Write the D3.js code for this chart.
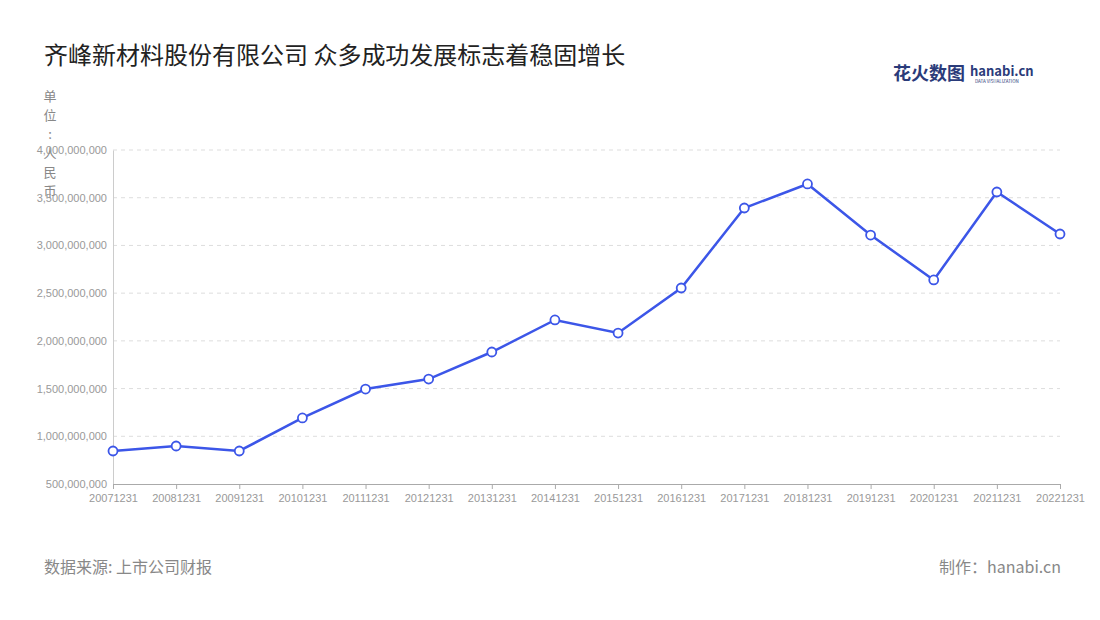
<!DOCTYPE html>
<html><head><meta charset="utf-8">
<script src="https://cdn.jsdelivr.net/npm/d3@7"></script>
<style>body{margin:0;background:#fff;font-family:"Noto Sans CJK SC","Noto Sans",sans-serif}</style>
</head><body><svg id="chart" width="1100" height="620"></svg>
<script>
var dates = ["20071231","20081231","20091231","20101231","20111231","20121231","20131231","20141231","20151231","20161231","20171231","20181231","20191231","20201231","20211231","20221231"];
var values = [846e6,898e6,846e6,1192e6,1495e6,1600e6,1883e6,2219e6,2082e6,2554e6,3392e6,3644e6,3109e6,2638e6,3560e6,3120e6];
var yTicks = [500e6,1000e6,1500e6,2000e6,2500e6,3000e6,3500e6,4000e6];

var svg = d3.select("#chart");
var x = d3.scalePoint().domain(dates).range([113,1060]);
var y = d3.scaleLinear().domain([500e6,4000e6]).range([484,150]);

svg.append("text").attr("x",44).attr("y",64).attr("font-size",24).attr("fill","#222")
  .text("齐峰新材料股份有限公司 众多成功发展标志着稳固增长");

// logo
svg.append("text").attr("x",893).attr("y",80).attr("font-size",18).attr("font-weight","bold").attr("fill","#2a3b7a").text("花火数图");
svg.append("text").attr("x",970).attr("y",76).attr("font-size",13).attr("font-weight","bold").attr("fill","#2a3b7a").text("hanabi.cn");
svg.append("text").attr("x",975).attr("y",83).attr("font-size",4.5).attr("fill","#2a3b7a").text("DATA VISUALIZATION");

// unit label vertical
"单位：人民币".split("").forEach(function(c,i){
  svg.append("text").attr("x",50).attr("y",101+i*19).attr("font-size",13).attr("fill","#888").attr("text-anchor","middle").text(c==="："?":":c);
});

// grid
svg.append("g").selectAll("line").data(yTicks.slice(1)).join("line")
  .attr("x1",113).attr("x2",1060).attr("y1",d=>y(d)).attr("y2",d=>y(d))
  .attr("stroke","#ddd").attr("stroke-dasharray","4,4");

var ya = svg.append("g").attr("transform","translate(113,0)")
  .call(d3.axisLeft(y).tickValues(yTicks).tickFormat(d3.format(",")).tickSize(0).tickPadding(6));
ya.select(".domain").attr("stroke","#ccc");
ya.selectAll("text").attr("fill","#999").attr("font-size",11);

var xa = svg.append("g").attr("transform","translate(0,484)")
  .call(d3.axisBottom(x).tickSize(5).tickPadding(5));
xa.select(".domain").attr("stroke","#aaa");
xa.selectAll("line").attr("stroke","#aaa");
xa.selectAll("text").attr("fill","#999").attr("font-size",11);

var line = d3.line().x((d,i)=>x(dates[i])).y(d=>y(d));
svg.append("path").datum(values).attr("d",line).attr("fill","none").attr("stroke","#3c56e8").attr("stroke-width",2.5);
svg.append("g").selectAll("circle").data(values).join("circle")
  .attr("cx",(d,i)=>x(dates[i])).attr("cy",d=>y(d)).attr("r",4.5)
  .attr("fill","#fff").attr("stroke","#3c56e8").attr("stroke-width",1.8);

svg.append("text").attr("x",44).attr("y",573).attr("font-size",16).attr("fill","#888").text("数据来源: 上市公司财报");
svg.append("text").attr("x",1061).attr("y",573).attr("font-size",16).attr("fill","#888").attr("text-anchor","end").text("制作：hanabi.cn");
</script></body></html>
